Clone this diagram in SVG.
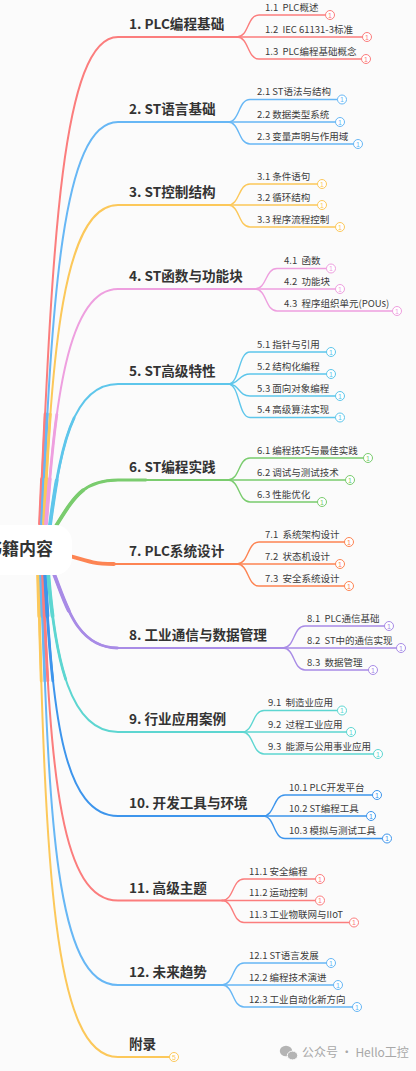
<svg xmlns="http://www.w3.org/2000/svg" width="416" height="1071" viewBox="0 0 416 1071">
<style>
.bg{fill:#fbfbfb}
.ln{fill:none;stroke-linecap:round}
.m{stroke-width:2}
.t1{stroke-width:2.8;stroke-dasharray:110 5000}
.t2{stroke-width:3.8;stroke-dasharray:45 5000}
.s{stroke-width:1.4}
.lbl{font-family:"Noto Sans CJK SC","Liberation Sans",sans-serif;font-size:13.6px;font-weight:bold;fill:#333}
.sub{font-family:"Noto Sans CJK SC","Liberation Sans",sans-serif;font-size:9.5px;fill:#3c3c3c;white-space:pre}
.num{font-family:"Liberation Sans","Noto Sans CJK SC",sans-serif;font-size:7px;text-anchor:middle}
.dot{fill:#fff;stroke-width:1}
.red{stroke:#fb7d7d}.redf{fill:#fb7d7d}
.lb{stroke:#67b7f5}.lbf{fill:#67b7f5}
.yl{stroke:#fcc85a}.ylf{fill:#fcc85a}
.pk{stroke:#ee9fdf}.pkf{fill:#ee9fdf}
.cy{stroke:#5ec6eb}.cyf{fill:#5ec6eb}
.gr{stroke:#7acc6e}.grf{fill:#7acc6e}
.or{stroke:#fd8453}.orf{fill:#fd8453}
.pu{stroke:#a88be6}.puf{fill:#a88be6}
.tl{stroke:#5dd6d1}.tlf{fill:#5dd6d1}
.bl{stroke:#3d95ec}.blf{fill:#3d95ec}
.wm{font-family:"Noto Sans CJK SC","Liberation Sans",sans-serif;font-size:12px;fill:#a8a8a8}
</style>
<rect class="bg" x="0" y="0" width="416" height="1071"/>
<defs>
<path id="p1" d="M40 524 C52 260,60 37,118 37 L237 37"/>
<path id="p2" d="M42 524 C52 300,62 122,118 122 L228 122"/>
<path id="p3" d="M44 524 C52 360,62 205,118 205 L228 205"/>
<path id="p4" d="M46 524 C55 410,66 289,118 289 L255 289"/>
<path id="p5" d="M50 525 C60 450,72 384,118 384 L228 384"/>
<path id="p6" d="M56 526 C75 495,85 480,118 480 L228 480"/>
<path id="p7" d="M70 556 C90 562,95 564,118 564 L237 564"/>
<path id="p8" d="M52 569 C65 600,75 648,118 648 L283 648"/>
<path id="p9" d="M48 571 C55 660,70 732,118 732 L242 732"/>
<path id="p10" d="M45 571 C52 720,65 816,118 816 L263 816"/>
<path id="p11" d="M43 571 C50 780,62 900.5,118 900.5 L222 900.5"/>
<path id="p12" d="M41 571 C49 819,55 985,118 985 L222 985"/>
<path id="p13" d="M38 571 C46 862,52 1057,118 1057 L169.5 1057"/>
</defs>
<g id="connectors">
<g class="ln red"><use href="#p1" class="m"/><use href="#p1" class="t1"/><use href="#p1" class="t2"/></g>
<g class="ln lb"><use href="#p2" class="m"/><use href="#p2" class="t1"/><use href="#p2" class="t2"/></g>
<g class="ln yl"><use href="#p3" class="m"/><use href="#p3" class="t1"/><use href="#p3" class="t2"/></g>
<g class="ln pk"><use href="#p4" class="m"/><use href="#p4" class="t1"/><use href="#p4" class="t2"/></g>
<g class="ln cy"><use href="#p5" class="m"/><use href="#p5" class="t1"/><use href="#p5" class="t2"/></g>
<g class="ln gr"><use href="#p6" class="m"/><use href="#p6" class="t1"/><use href="#p6" class="t2"/></g>
<g class="ln or"><use href="#p7" class="m"/><use href="#p7" class="t2"/></g>
<g class="ln yl"><use href="#p13" class="m"/><use href="#p13" class="t1"/><use href="#p13" class="t2"/></g>
<g class="ln lb"><use href="#p12" class="m"/><use href="#p12" class="t1"/><use href="#p12" class="t2"/></g>
<g class="ln red"><use href="#p11" class="m"/><use href="#p11" class="t1"/><use href="#p11" class="t2"/></g>
<g class="ln bl"><use href="#p10" class="m"/><use href="#p10" class="t1"/><use href="#p10" class="t2"/></g>
<g class="ln tl"><use href="#p9" class="m"/><use href="#p9" class="t1"/><use href="#p9" class="t2"/></g>
<g class="ln pu"><use href="#p8" class="m"/><use href="#p8" class="t1"/><use href="#p8" class="t2"/></g>
<g class="ln s red">
<path d="M237 37 C249 37,247 15,259 15 L325.5 15"/>
<path d="M237 37 L362.5 37"/>
<path d="M237 37 C249 37,247 59,259 59 L361.5 59"/>
</g>
<g class="ln s lb">
<path d="M228 122 C240 122,238 99.5,250 99.5 L337.5 99.5"/>
<path d="M228 122 L335.5 122"/>
<path d="M228 122 C240 122,238 144,250 144 L353.5 144"/>
</g>
<g class="ln s yl">
<path d="M228 205 C240 205,238 184,250 184 L317.5 184"/>
<path d="M228 205 L317.5 205"/>
<path d="M228 205 C240 205,238 227,250 227 L335.5 227"/>
</g>
<g class="ln s pk">
<path d="M255 289 C267 289,265 268.5,277 268.5 L326.5 268.5"/>
<path d="M255 289 L335.5 289"/>
<path d="M255 289 C267 289,265 311,277 311 L392.5 311"/>
</g>
<g class="ln s cy">
<path d="M228 384 C240 384,238 352,250 352 L326.5 352"/>
<path d="M228 384 C240 384,238 374,250 374 L326.5 374"/>
<path d="M228 384 C240 384,238 396,250 396 L335.5 396"/>
<path d="M228 384 C240 384,238 417.5,250 417.5 L335.5 417.5"/>
</g>
<g class="ln s gr">
<path d="M228 480 C240 480,238 458,250 458 L363.5 458"/>
<path d="M228 480 L345.5 480"/>
<path d="M228 480 C240 480,238 502,250 502 L317.5 502"/>
</g>
<g class="ln s or">
<path d="M237 564 C249 564,247 542,259 542 L344.5 542"/>
<path d="M237 564 L335.5 564"/>
<path d="M237 564 C249 564,247 586,259 586 L344.5 586"/>
</g>
<g class="ln s pu">
<path d="M283 648 C295 648,293 626,305 626 L384.5 626"/>
<path d="M283 648 L396.5 648"/>
<path d="M283 648 C295 648,293 670,305 670 L368.5 670"/>
</g>
<g class="ln s tl">
<path d="M242 732 C254 732,252 710.5,264 710.5 L337.5 710.5"/>
<path d="M242 732 L346.5 732"/>
<path d="M242 732 C254 732,252 754,264 754 L373.5 754"/>
</g>
<g class="ln s bl">
<path d="M263 816 C275 816,273 795,285 795 L372.5 795"/>
<path d="M263 816 L366.5 816"/>
<path d="M263 816 C275 816,273 838.5,285 838.5 L382.5 838.5"/>
</g>
<g class="ln s red">
<path d="M222 900.5 C234 900.5,232 879,244 879 L315.5 879"/>
<path d="M222 900.5 L315.5 900.5"/>
<path d="M222 900.5 C234 900.5,232 922.5,244 922.5 L349.5 922.5"/>
</g>
<g class="ln s lb">
<path d="M222 985 C234 985,232 963,244 963 L326.5 963"/>
<path d="M222 985 L333.5 985"/>
<path d="M222 985 C234 985,232 1007,244 1007 L352.5 1007"/>
</g>
</g>

<g id="root">
<rect x="-40" y="525" width="112" height="50" rx="17" fill="#ffffff"/>
<text x="-15" y="555" style="font-family:'Noto Sans CJK SC','Liberation Sans',sans-serif;font-size:17px;font-weight:bold;fill:#333">书籍内容</text>
</g>

<g id="n1"><text class="lbl" x="129" y="29">1. PLC编程基础</text></g>
<g id="n1-1"><text class="sub" x="265" y="10.5">1.1  PLC概述</text><circle class="dot red" cx="330" cy="15" r="4.5"/><text class="num redf" x="330" y="17.5">1</text></g>
<g id="n1-2"><text class="sub" x="265" y="32.5">1.2  IEC 61131-3标准</text><circle class="dot red" cx="367" cy="37" r="4.5"/><text class="num redf" x="367" y="39.5">1</text></g>
<g id="n1-3"><text class="sub" x="265" y="54.5">1.3  PLC编程基础概念</text><circle class="dot red" cx="366" cy="59" r="4.5"/><text class="num redf" x="366" y="61.5">1</text></g>

<g id="n2"><text class="lbl" x="129" y="114">2. ST语言基础</text></g>
<g id="n2-1"><text class="sub" x="257" y="95">2.1 ST语法与结构</text><circle class="dot lb" cx="342" cy="99.5" r="4.5"/><text class="num lbf" x="342" y="102">1</text></g>
<g id="n2-2"><text class="sub" x="257" y="117.5">2.2 数据类型系统</text><circle class="dot lb" cx="340" cy="122" r="4.5"/><text class="num lbf" x="340" y="124.5">1</text></g>
<g id="n2-3"><text class="sub" x="257" y="139.5">2.3 变量声明与作用域</text><circle class="dot lb" cx="358" cy="144" r="4.5"/><text class="num lbf" x="358" y="146.5">1</text></g>

<g id="n3"><text class="lbl" x="129" y="197">3. ST控制结构</text></g>
<g id="n3-1"><text class="sub" x="257" y="179.5">3.1 条件语句</text><circle class="dot yl" cx="322" cy="184" r="4.5"/><text class="num ylf" x="322" y="186.5">1</text></g>
<g id="n3-2"><text class="sub" x="257" y="200.5">3.2 循环结构</text><circle class="dot yl" cx="322" cy="205" r="4.5"/><text class="num ylf" x="322" y="207.5">1</text></g>
<g id="n3-3"><text class="sub" x="257" y="222.5">3.3 程序流程控制</text><circle class="dot yl" cx="340" cy="227" r="4.5"/><text class="num ylf" x="340" y="229.5">1</text></g>

<g id="n4"><text class="lbl" x="129" y="281">4. ST函数与功能块</text></g>
<g id="n4-1"><text class="sub" x="284" y="264">4.1  函数</text><circle class="dot pk" cx="331" cy="268.5" r="4.5"/><text class="num pkf" x="331" y="271">1</text></g>
<g id="n4-2"><text class="sub" x="284" y="284.5">4.2  功能块</text><circle class="dot pk" cx="340" cy="289" r="4.5"/><text class="num pkf" x="340" y="291.5">1</text></g>
<g id="n4-3"><text class="sub" x="284" y="306.5">4.3  程序组织单元(POUs)</text><circle class="dot pk" cx="397" cy="311" r="4.5"/><text class="num pkf" x="397" y="313.5">1</text></g>

<g id="n5"><text class="lbl" x="129" y="376">5. ST高级特性</text></g>
<g id="n5-1"><text class="sub" x="257" y="347.5">5.1 指针与引用</text><circle class="dot cy" cx="331" cy="352" r="4.5"/><text class="num cyf" x="331" y="354.5">1</text></g>
<g id="n5-2"><text class="sub" x="257" y="369.5">5.2 结构化编程</text><circle class="dot cy" cx="331" cy="374" r="4.5"/><text class="num cyf" x="331" y="376.5">1</text></g>
<g id="n5-3"><text class="sub" x="257" y="391.5">5.3 面向对象编程</text><circle class="dot cy" cx="340" cy="396" r="4.5"/><text class="num cyf" x="340" y="398.5">1</text></g>
<g id="n5-4"><text class="sub" x="257" y="413">5.4 高级算法实现</text><circle class="dot cy" cx="340" cy="417.5" r="4.5"/><text class="num cyf" x="340" y="420">1</text></g>

<g id="n6"><text class="lbl" x="129" y="472">6. ST编程实践</text></g>
<g id="n6-1"><text class="sub" x="257" y="453.5">6.1 编程技巧与最佳实践</text><circle class="dot gr" cx="368" cy="458" r="4.5"/><text class="num grf" x="368" y="460.5">1</text></g>
<g id="n6-2"><text class="sub" x="257" y="475.5">6.2 调试与测试技术</text><circle class="dot gr" cx="350" cy="480" r="4.5"/><text class="num grf" x="350" y="482.5">1</text></g>
<g id="n6-3"><text class="sub" x="257" y="497.5">6.3 性能优化</text><circle class="dot gr" cx="322" cy="502" r="4.5"/><text class="num grf" x="322" y="504.5">1</text></g>

<g id="n7"><text class="lbl" x="129" y="556">7. PLC系统设计</text></g>
<g id="n7-1"><text class="sub" x="265" y="537.5">7.1  系统架构设计</text><circle class="dot or" cx="349" cy="542" r="4.5"/><text class="num orf" x="349" y="544.5">1</text></g>
<g id="n7-2"><text class="sub" x="265" y="559.5">7.2  状态机设计</text><circle class="dot or" cx="340" cy="564" r="4.5"/><text class="num orf" x="340" y="566.5">1</text></g>
<g id="n7-3"><text class="sub" x="265" y="581.5">7.3  安全系统设计</text><circle class="dot or" cx="349" cy="586" r="4.5"/><text class="num orf" x="349" y="588.5">1</text></g>

<g id="n8"><text class="lbl" x="129" y="640">8. 工业通信与数据管理</text></g>
<g id="n8-1"><text class="sub" x="307" y="621.5">8.1  PLC通信基础</text><circle class="dot pu" cx="389" cy="626" r="4.5"/><text class="num puf" x="389" y="628.5">1</text></g>
<g id="n8-2"><text class="sub" x="307" y="643.5">8.2  ST中的通信实现</text><circle class="dot pu" cx="401" cy="648" r="4.5"/><text class="num puf" x="401" y="650.5">1</text></g>
<g id="n8-3"><text class="sub" x="307" y="665.5">8.3  数据管理</text><circle class="dot pu" cx="373" cy="670" r="4.5"/><text class="num puf" x="373" y="672.5">1</text></g>

<g id="n9"><text class="lbl" x="129" y="724">9. 行业应用案例</text></g>
<g id="n9-1"><text class="sub" x="268" y="706">9.1  制造业应用</text><circle class="dot tl" cx="342" cy="710.5" r="4.5"/><text class="num tlf" x="342" y="713">1</text></g>
<g id="n9-2"><text class="sub" x="268" y="727.5">9.2  过程工业应用</text><circle class="dot tl" cx="351" cy="732" r="4.5"/><text class="num tlf" x="351" y="734.5">1</text></g>
<g id="n9-3"><text class="sub" x="268" y="749.5">9.3  能源与公用事业应用</text><circle class="dot tl" cx="378" cy="754" r="4.5"/><text class="num tlf" x="378" y="756.5">1</text></g>

<g id="n10"><text class="lbl" x="129" y="808">10. 开发工具与环境</text></g>
<g id="n10-1"><text class="sub" x="289" y="790.5">10.1 PLC开发平台</text><circle class="dot bl" cx="377" cy="795" r="4.5"/><text class="num blf" x="377" y="797.5">1</text></g>
<g id="n10-2"><text class="sub" x="289" y="811.5">10.2 ST编程工具</text><circle class="dot bl" cx="371" cy="816" r="4.5"/><text class="num blf" x="371" y="818.5">1</text></g>
<g id="n10-3"><text class="sub" x="289" y="834">10.3 模拟与测试工具</text><circle class="dot bl" cx="387" cy="838.5" r="4.5"/><text class="num blf" x="387" y="841">1</text></g>

<g id="n11"><text class="lbl" x="129" y="892.5">11. 高级主题</text></g>
<g id="n11-1"><text class="sub" x="249" y="874.5">11.1 安全编程</text><circle class="dot red" cx="320" cy="879" r="4.5"/><text class="num redf" x="320" y="881.5">1</text></g>
<g id="n11-2"><text class="sub" x="249" y="896">11.2 运动控制</text><circle class="dot red" cx="320" cy="900.5" r="4.5"/><text class="num redf" x="320" y="903">1</text></g>
<g id="n11-3"><text class="sub" x="249" y="918">11.3 工业物联网与IIoT</text><circle class="dot red" cx="354" cy="922.5" r="4.5"/><text class="num redf" x="354" y="925">1</text></g>

<g id="n12"><text class="lbl" x="129" y="977">12. 未来趋势</text></g>
<g id="n12-1"><text class="sub" x="249" y="958.5">12.1 ST语言发展</text><circle class="dot lb" cx="331" cy="963" r="4.5"/><text class="num lbf" x="331" y="965.5">1</text></g>
<g id="n12-2"><text class="sub" x="249" y="980.5">12.2 编程技术演进</text><circle class="dot lb" cx="338" cy="985" r="4.5"/><text class="num lbf" x="338" y="987.5">1</text></g>
<g id="n12-3"><text class="sub" x="249" y="1002.5">12.3 工业自动化新方向</text><circle class="dot lb" cx="357" cy="1007" r="4.5"/><text class="num lbf" x="357" y="1009.5">1</text></g>

<g id="n13"><text class="lbl" x="129" y="1049">附录</text><circle class="dot yl" cx="174" cy="1057" r="4.5"/><text class="num ylf" x="174" y="1059.5">5</text></g>

<g id="watermark">
<ellipse cx="286" cy="1051" rx="6.2" ry="5.2" fill="#b4b4b4"/>
<ellipse cx="292.5" cy="1055.5" rx="5.2" ry="4.4" fill="#b4b4b4" stroke="#fbfbfb" stroke-width="1"/>
<text class="wm" x="302" y="1057">公众号 · Hello工控</text>
</g>
</svg>
